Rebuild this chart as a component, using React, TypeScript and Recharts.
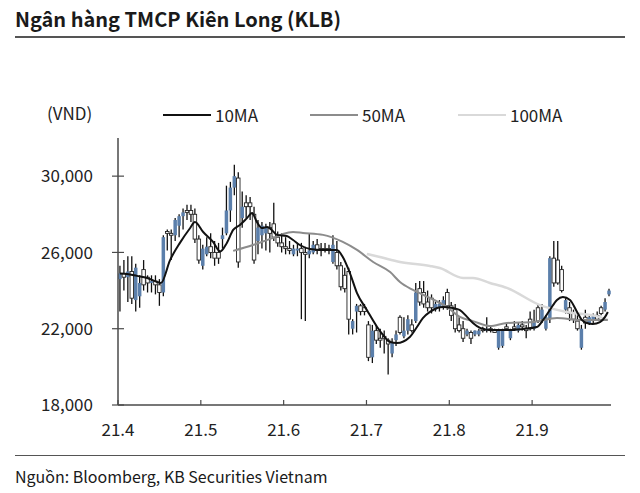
import React from 'react';
import { ComposedChart, Bar, Line, XAxis, YAxis, Legend } from 'recharts';

const FONT = '"Noto Sans CJK KR", "Noto Sans", sans-serif';
const BLUE = '#5b7fab';
const AXIS = '#4a4a4a';

const titleText = 'Ngân hàng TMCP Kiên Long (KLB)';
const sourceText = 'Nguồn: Bloomberg, KB Securities Vietnam';
const unitText = '(VND)';

const monthLabels = ['21.4', '21.5', '21.6', '21.7', '21.8', '21.9'];
const monthStartDays = [0, 21, 42, 63, 84, 105];
const priceTicks = [18000, 22000, 26000, 30000];

const openPrices = [
  24600, 24900, 24700, 25000, 23500, 23700, 25100, 24700, 24400, 24500,
  24300, 23900, 27100, 27000, 26900, 27400, 27900, 28200, 28200, 28000,
  26700, 25300, 25900, 26300, 26000, 26000, 26700, 27000, 28200, 29400,
  29900, 27800, 28600, 28600, 28000, 26600, 26900, 27000, 27300, 27500,
  26800, 26500, 26300, 26200, 25900, 26100, 26200, 26000, 25900, 26000,
  26400, 26200, 26200, 26200, 25500, 26000, 25300, 24800, 25000, 22000,
  22900, 23200, 23100, 22200, 20500, 21900, 21500, 21600, 21400, 20700,
  21400, 22600, 21600, 21900, 22200, 22400, 24100, 23900, 23400, 23600,
  23000, 23100, 23100, 23900, 23200, 23000, 22200, 22000, 21700, 21800,
  21700, 21700, 22000, 21900, 22000, 21900, 21000, 21100, 22100, 21500,
  22100, 21900, 22200, 22000, 22500, 22000, 23100, 22500, 22000, 22500,
  25700, 25600, 25100, 23000, 23100, 22800, 22400, 21000, 22600, 22300,
  22500, 22700, 23100, 23000, 23800,
];
const highPrices = [
  25300, 25600, 25800, 25800, 25400, 24800, 25600, 24800, 24800, 24800,
  24600, 26900, 27200, 27200, 27800, 28000, 28300, 28500, 28500, 28300,
  26900, 26400, 26800, 27000, 26600, 26500, 27300, 29500, 29700, 30600,
  30200, 29200, 29000, 28900, 28400, 27700, 27600, 27500, 27600, 28600,
  27100, 27000, 26800, 26600, 26400, 26500, 26500, 26300, 27000, 26600,
  26700, 26500, 26500, 26400, 26900, 26600, 25500, 25200, 25200, 22500,
  23300, 23300, 23300, 22400, 22200, 22200, 22000, 21900, 21500, 21500,
  21900, 22700, 22600, 22700, 22500, 24400, 24500, 24500, 24000, 23800,
  23400, 23500, 23700, 24100, 23400, 23300, 22600, 22400, 22000, 21900,
  21900, 22000, 22100, 22600, 22100, 22000, 22000, 22000, 22300, 22000,
  22400, 22300, 22400, 22200, 22900, 23000, 23300, 23300, 22700, 25800,
  26600, 26600, 25300, 23600, 23400, 23000, 22700, 22200, 23000, 22700,
  22800, 22900, 23200, 23600, 24100,
];
const lowPrices = [
  22900, 24000, 23400, 23300, 22900, 23100, 24000, 23900, 23900, 23800,
  23200, 23700, 26100, 25600, 26600, 26800, 27200, 27700, 27600, 26500,
  25400, 25100, 25800, 25700, 25300, 25400, 26200, 26900, 27600, 29000,
  25200, 27300, 27800, 27700, 25400, 25900, 26200, 26100, 26000, 26600,
  26300, 26000, 25900, 25900, 25800, 25800, 22500, 22400, 25700, 25900,
  25900, 25800, 26000, 25900, 25400, 25100, 24000, 23900, 21700, 21700,
  21800, 22700, 22700, 20300, 20200, 21200, 21000, 20700, 19600, 20500,
  21100, 21700, 21500, 21700, 21800, 22300, 23200, 23100, 22900, 22800,
  22900, 22900, 23000, 23000, 22400, 21800, 21800, 21300, 21600, 21200,
  21600, 21600, 21800, 21800, 21800, 21800, 20900, 21000, 21900, 21400,
  21900, 21800, 21900, 21500, 21900, 21900, 22300, 22300, 21900, 22300,
  24200, 24300, 23900, 22800, 22400, 22300, 21900, 20900, 22000, 22200,
  22300, 22400, 22700, 22900, 23700,
];
const closePrices = [
  24900, 24700, 25000, 23600, 25200, 24400, 24300, 24400, 24500, 24300,
  23900, 26800, 27000, 26900, 27700, 27900, 28100, 28100, 28000, 26700,
  25600, 26200, 26300, 26000, 25700, 25700, 26900, 28200, 29400, 30000,
  25500, 28400, 28400, 28400, 25600, 27300, 27400, 27300, 27000, 26800,
  26500, 26300, 26200, 26100, 26200, 26200, 26000, 25900, 26100, 26400,
  26100, 26100, 26100, 26100, 26400, 25300, 24200, 24100, 22500, 22400,
  23200, 22900, 22900, 20500, 21900, 21400, 21400, 21500, 21200, 21300,
  21700, 21800, 21900, 22500, 21900, 23900, 23400, 23300, 23100, 23100,
  23300, 23300, 23500, 23200, 22700, 22000, 21900, 21500, 21900, 21500,
  21900, 21900, 21900, 22000, 21900, 21800, 21900, 21900, 22000, 21900,
  22000, 22200, 22100, 21900, 22000, 22400, 22400, 23000, 22600, 25700,
  24400, 24400, 24000, 23500, 22800, 22500, 22000, 22000, 22300, 22600,
  22700, 22500, 22800, 23400, 24000,
];

const ma10Days = [0.5, 2.3, 4.8, 7.4, 9.9, 10.9, 13.2, 15.7, 18.3, 19.5, 21.6, 24.1, 25.9, 27.6, 29.2, 30.9, 32.7, 34.0, 35.2, 36.5, 37.8, 39.0, 40.3, 42.8, 44.4, 46.1, 48.7, 52.0, 55.5, 57.0, 58.8, 60.6, 63.1, 65.7, 67.2, 69.0, 70.7, 74.0, 75.8, 77.3, 79.1, 80.9, 82.4, 84.9, 86.7, 88.5, 90.0, 91.8, 94.3, 99.4, 102.7, 106.2, 107.8, 109.5, 111.3, 112.8, 114.6, 116.4, 117.6, 118.9, 120.4, 122.2, 123.5, 124.2];
const ma10Values = [24900, 24870, 24770, 24660, 24450, 24400, 25600, 26500, 27280, 27600, 27070, 26550, 26050, 26500, 27180, 27440, 27800, 28070, 27600, 27280, 27330, 27180, 26920, 26860, 26650, 26390, 26180, 26130, 26130, 25760, 24920, 23870, 22980, 22090, 21670, 21300, 21250, 21570, 22090, 22560, 22880, 23090, 23140, 23090, 22980, 22620, 22300, 22040, 21930, 21930, 21990, 22090, 22460, 22980, 23510, 23660, 23510, 22880, 22460, 22300, 22250, 22350, 22620, 22880];

const ma50Days = [29.2, 34.2, 39.3, 41.8, 44.4, 46.9, 52.0, 57.0, 60.6, 64.7, 69.0, 71.5, 74.8, 79.1, 83.4, 86.7, 90.0, 94.3, 98.6, 105.2, 111.3, 117.1, 124.2];
const ma50Values = [26080, 26390, 26760, 26970, 27070, 27020, 26920, 26550, 26130, 25500, 24970, 24450, 24030, 23610, 23140, 22620, 22400, 22140, 22300, 22350, 22560, 22460, 22460];

const ma100Days = [63.1, 66.4, 71.5, 79.1, 81.6, 87.5, 90.0, 94.3, 98.6, 107.0, 113.8, 122.2, 124.2];
const ma100Values = [25920, 25760, 25500, 25290, 25180, 24660, 24660, 24400, 24140, 23240, 22880, 22610, 22460];

const candles = openPrices.map((o, i) => ({
  t: i + 0.5,
  open: o,
  high: highPrices[i],
  low: lowPrices[i],
  close: closePrices[i],
}));
const ma10 = ma10Days.map((t, i) => ({ t, v: ma10Values[i] }));
const ma50 = ma50Days.map((t, i) => ({ t, v: ma50Values[i] }));
const ma100 = ma100Days.map((t, i) => ({ t, v: ma100Values[i] }));

const legendItems = [
  { name: '10MA', color: '#111111', x: 163 },
  { name: '50MA', color: '#8c8c8c', x: 310 },
  { name: '100MA', color: '#d9d9d9', x: 458 },
];

const LEGEND_H = 30;

const Candle = (props: any) => {
  const { x, y, width, height, payload } = props;
  if (x == null || y == null || !payload) return null;
  const top = Math.min(y, y + height);
  const h = Math.abs(height);
  const range = payload.high - payload.low;
  const k = range > 0 ? h / range : 0;
  const yO = top + (payload.high - payload.open) * k;
  const yC = top + (payload.high - payload.close) * k;
  const cx = x + width / 2;
  const up = payload.close > payload.open;
  const bt = Math.min(yO, yC);
  const bh = Math.max(Math.abs(yO - yC), 1.5);
  return (
    <g>
      <line x1={cx} x2={cx} y1={top} y2={top + h} stroke="#111" strokeWidth={1.3} />
      <rect
        x={cx - 1.75}
        y={bt}
        width={3.5}
        height={bh}
        fill={up ? BLUE : '#ffffff'}
        stroke={up ? 'none' : '#222'}
        strokeWidth={0.9}
      />
    </g>
  );
};

const YTick = (props: any) => {
  const { x, y, payload } = props;
  return (
    <g>
      <line x1={x - 6} x2={x + 6} y1={y} y2={y} stroke={AXIS} strokeWidth={1.2} />
      <text x={x - 25} y={y} dy="0.36em" textAnchor="end" fontFamily={FONT} fontSize={17} fill="#222">
        {Number(payload.value).toLocaleString('en-US')}
      </text>
    </g>
  );
};

const XTick = (props: any) => {
  const { x, y, payload } = props;
  const idx = monthStartDays.indexOf(payload.value);
  return (
    <g>
      <line x1={x} x2={x} y1={y} y2={y - 5} stroke={AXIS} strokeWidth={1.2} />
      <text x={x} y={y + 25} dy="0.36em" textAnchor="middle" fontFamily={FONT} fontSize={17} fill="#222">
        {idx >= 0 ? monthLabels[idx] : ''}
      </text>
    </g>
  );
};

const LegendContent = () => (
  <div style={{ position: 'relative', width: 640, height: LEGEND_H, fontFamily: FONT, fontSize: 17, color: '#222' }}>
    <span style={{ position: 'absolute', left: 47, top: 2, lineHeight: '20px' }}>{unitText}</span>
    {legendItems.map((it) => (
      <React.Fragment key={it.name}>
        <span style={{ position: 'absolute', left: it.x, top: 13, width: 48, height: 0, borderTop: `2px solid ${it.color}` }} />
        <span style={{ position: 'absolute', left: it.x + 52, top: 4, lineHeight: '20px' }}>{it.name}</span>
      </React.Fragment>
    ))}
  </div>
);

export default function App() {
  return (
    <div style={{ position: 'absolute', left: 0, top: 0, width: 640, height: 493, background: '#fff', fontFamily: FONT }}>
      <div style={{ position: 'absolute', left: 15, top: 4, fontSize: 20, fontWeight: 700, color: '#1a1a1a', lineHeight: '30px', whiteSpace: 'nowrap' }}>
        {titleText}
      </div>
      <div style={{ position: 'absolute', left: 15, top: 36, width: 610, height: 0, borderTop: '2px solid #555' }} />
      <div style={{ position: 'absolute', left: 15, top: 455, width: 610, height: 0, borderTop: '1px solid #555' }} />
      <div style={{ position: 'absolute', left: 15, top: 464, fontSize: 16, color: '#1a1a1a', lineHeight: '24px', whiteSpace: 'nowrap' }}>
        {sourceText}
      </div>
      <div style={{ position: 'absolute', left: 0, top: 0 }}>
        <ComposedChart width={640} height={493} data={candles} margin={{ top: 138 - LEGEND_H, right: 29, bottom: 58, left: 58 }}>
          <XAxis
            dataKey="t"
            type="number"
            domain={[0, 125]}
            ticks={monthStartDays}
            tick={<XTick />}
            tickSize={0}
            tickMargin={0}
            tickLine={false}
            axisLine={{ stroke: AXIS, strokeWidth: 1.5 }}
            height={30}
            allowDataOverflow
          />
          <YAxis
            type="number"
            domain={[18000, 32000]}
            ticks={priceTicks}
            tick={<YTick />}
            tickSize={0}
            tickMargin={0}
            tickLine={false}
            axisLine={{ stroke: AXIS, strokeWidth: 1.5 }}
            width={60}
            allowDataOverflow
          />
          <Legend
            verticalAlign="top"
            content={<LegendContent />}
            wrapperStyle={{ position: 'absolute', left: 0, top: 101, width: 640, height: LEGEND_H }}
          />
          <Bar
            dataKey={(d: any) => [d.low, d.high]}
            shape={<Candle />}
            barSize={3}
            isAnimationActive={false}
            legendType="none"
          />
          <Line data={ma100} dataKey="v" type="monotone" stroke="#d9d9d9" strokeWidth={2.5} dot={false} isAnimationActive={false} name="100MA" />
          <Line data={ma50} dataKey="v" type="monotone" stroke="#8c8c8c" strokeWidth={2} dot={false} isAnimationActive={false} name="50MA" />
          <Line data={ma10} dataKey="v" type="monotone" stroke="#111111" strokeWidth={2} dot={false} isAnimationActive={false} name="10MA" />
        </ComposedChart>
      </div>
    </div>
  );
}
